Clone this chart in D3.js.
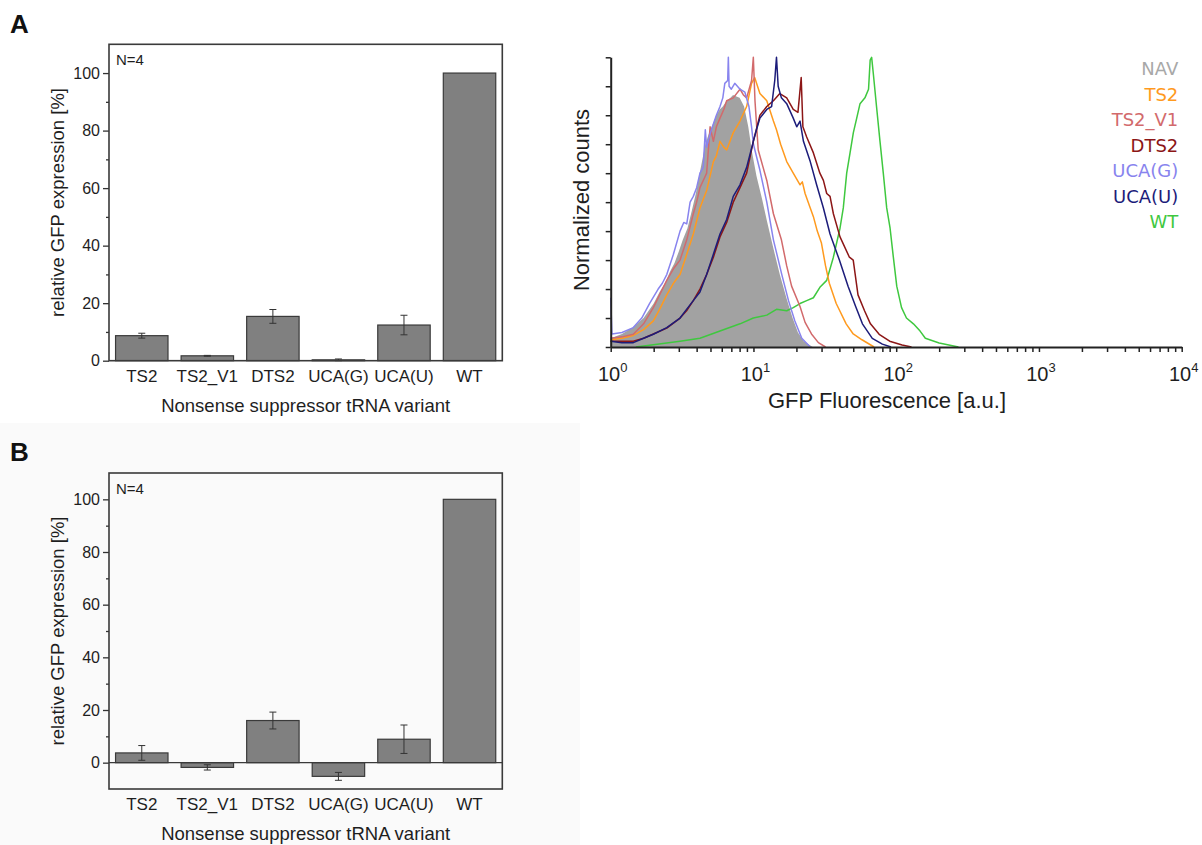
<!DOCTYPE html>
<html>
<head>
<meta charset="utf-8">
<script src="https://cdn.jsdelivr.net/npm/d3@7"></script>
<style>
  body { margin: 0; background: #fff; }
</style>
</head>
<body>
<script>
// ---- bar panels (A, B) ----
var categories = ["TS2", "TS2_V1", "DTS2", "UCA(G)", "UCA(U)", "WT"];
var valuesA = [8.7, 1.7, 15.4, 0.3, 12.4, 100];
var errorsA = [0.85, 0.15, 2.4, 0.3, 3.4, 0];
var valuesB = [3.7, -1.8, 16.0, -5.2, 8.9, 100];
var errorsB = [2.8, 1.0, 3.2, 1.5, 5.4, 0];
var barMajorTicks = [0, 20, 40, 60, 80, 100];
var barMinorTicks = [-10, 10, 30, 50, 70, 90, 110];

// ---- flow cytometry histogram ----
var histNames = ["NAV", "TS2", "TS2_V1", "DTS2", "UCA(G)", "UCA(U)", "WT"];
var histColors = ["#a8a8a8", "#ff9a1e", "#d26a6c", "#8c1616", "#8884ee", "#1c1c7a", "#3fc83f"];
var histYTicks = [0, 0.1, 0.2, 0.3, 0.4, 0.5, 0.6, 0.7, 0.8, 0.9, 1];
var histDecades = [1, 10, 100, 1000, 10000];
var histExponents = ["0", "1", "2", "3", "4"];

var histNAV = [[1,0.03],[1.2,0.045],[1.45,0.07],[1.7,0.1],[2.0,0.15],[2.2,0.19],[2.4,0.22],[2.6,0.26],[2.8,0.29],[3.0,0.33],[3.2,0.37],[3.45,0.41],
  [3.7,0.47],[3.95,0.53],[4.2,0.6],[4.4,0.65],[4.6,0.7],[4.9,0.74],[5.2,0.77],[5.5,0.8],[5.8,0.82],[6.1,0.83],[6.5,0.85],[6.9,0.86],[7.2,0.87],
  [7.6,0.865],[8.0,0.86],[8.6,0.83],[9.2,0.76],[9.8,0.67],[10.5,0.59],[11.5,0.51],[12.5,0.43],[13.8,0.34],[15.3,0.25],[17,0.17],[18.8,0.1],
  [20.5,0.05],[22.5,0.02],[26,0]];

var histUCAG = [[1,0.17],[1.02,0.045],[1.2,0.05],[1.44,0.067],[1.65,0.1],[1.87,0.15],[2.15,0.2],[2.3,0.22],[2.47,0.25],[2.75,0.32],[3.06,0.4],[3.25,0.43],[3.41,0.425],
  [3.6,0.5],[3.79,0.52],[4.0,0.55],[4.22,0.6],[4.45,0.62],[4.6,0.75],[4.7,0.69],[5.0,0.74],[5.24,0.77],[5.5,0.8],[5.83,0.83],[6.1,0.86],[6.3,0.91],
  [6.6,0.92],[6.67,1.0],[6.75,0.9],[7.0,0.89],[7.4,0.91],[8.05,0.89],[8.7,0.88],[9.3,0.83],[9.7,0.76],[10,0.7],[11.1,0.61],[12.4,0.5],[13.8,0.37],
  [15.8,0.25],[17.6,0.16],[19.5,0.09],[21.8,0.03],[25,0]];

var histTS2V1 = [[1,0.03],[1.2,0.035],[1.44,0.044],[1.7,0.08],[1.99,0.136],[2.2,0.18],[2.47,0.23],[2.75,0.27],[3.06,0.3],[3.41,0.37],[3.79,0.46],
  [4.0,0.5],[4.22,0.55],[4.5,0.58],[4.7,0.6],[4.97,0.76],[5.24,0.71],[5.5,0.76],[5.83,0.79],[6.2,0.82],[6.49,0.85],[7.22,0.86],[8.05,0.89],
  [8.5,0.87],[8.96,0.86],[9.7,0.92],[9.98,1.0],[10.25,0.85],[10.8,0.68],[12.4,0.575],[13.8,0.46],[15.7,0.37],[17.1,0.28],[18.5,0.21],
  [21.2,0.14],[23,0.085],[25.5,0.045],[28.5,0.015],[32,0]];

var histTS2 = [[1,0.025],[1.2,0.03],[1.44,0.04],[1.7,0.06],[1.99,0.09],[2.2,0.13],[2.47,0.18],[2.75,0.22],[3.06,0.25],[3.41,0.32],[3.79,0.39],
  [4.22,0.48],[4.7,0.54],[5.24,0.64],[5.5,0.66],[5.83,0.71],[6.2,0.69],[6.49,0.68],[7.22,0.74],[8.05,0.78],[8.96,0.83],[9.7,0.91],[10.2,0.93],
  [11.1,0.875],[12.4,0.85],[13.8,0.78],[14.5,0.75],[15.5,0.7],[17.1,0.64],[19,0.6],[21.2,0.56],[22,0.57],[23,0.53],[25,0.48],[26.3,0.45],
  [28,0.4],[29.9,0.36],[32,0.28],[34,0.22],[38,0.15],[44.6,0.08],[50,0.045],[57.6,0.025],[70,0]];

var histUCAU = [[1,0.02],[1.2,0.015],[1.44,0.015],[1.7,0.03],[1.99,0.044],[2.47,0.067],[3.06,0.1],[3.4,0.13],[3.79,0.16],[4.22,0.19],[4.7,0.25],
  [5.24,0.32],[5.83,0.39],[6.49,0.44],[7.22,0.52],[8.05,0.56],[8.96,0.62],[9.98,0.71],[10.5,0.75],[11.1,0.79],[12.4,0.82],[13.4,0.83],[14.1,0.92],
  [14.5,1.0],[14.9,0.9],[15.7,0.86],[17.1,0.84],[19,0.79],[20.1,0.76],[21.2,0.78],[22.4,0.71],[25,0.64],[27.7,0.56],[30.9,0.48],[34.4,0.39],
  [40,0.3],[46,0.21],[52,0.14],[58,0.08],[68,0.03],[80,0.01],[92,0]];

var histDTS2 = [[1,0.02],[1.2,0.02],[1.44,0.02],[1.7,0.03],[1.99,0.045],[2.47,0.065],[3.06,0.1],[3.4,0.125],[3.79,0.16],[4.22,0.2],[4.7,0.25],
  [5.24,0.31],[5.83,0.38],[6.49,0.43],[7.22,0.5],[8.05,0.55],[8.96,0.6],[9.98,0.71],[11.1,0.8],[12.4,0.83],[13.8,0.85],[15.3,0.875],[17.1,0.86],
  [19,0.82],[20.5,0.81],[21.6,0.93],[22.2,0.76],[23.6,0.725],[26.3,0.67],[29.2,0.6],[30.9,0.575],[32.6,0.53],[34.4,0.52],[36.3,0.46],[40.4,0.38],
  [47,0.31],[50,0.3],[54,0.18],[60,0.125],[66,0.08],[76,0.044],[90,0.02],[110,0.007],[128,0]];

var histWT = [[1.5,0],[1.99,0.008],[3.06,0.02],[4.22,0.03],[5.83,0.055],[8.05,0.08],[9.98,0.1],[12.4,0.11],[14.5,0.13],[17.1,0.125],[19,0.136],
  [21.2,0.15],[23.6,0.16],[26.3,0.17],[29.2,0.206],[32.6,0.23],[36.3,0.31],[40.4,0.41],[42.6,0.48],[45,0.6],[47.5,0.67],[50.1,0.74],[52.9,0.79],
  [55.8,0.84],[60.4,0.86],[64,0.89],[65.7,0.99],[67.3,1.0],[69.1,0.945],[72.8,0.83],[77,0.71],[81.2,0.6],[85.8,0.48],[90.6,0.41],[95.5,0.31],
  [100.9,0.21],[109,0.136],[118,0.1],[132,0.08],[147,0.055],[160,0.03],[200,0.014],[273,0]];

var histLines = {"TS2": histTS2, "TS2_V1": histTS2V1, "DTS2": histDTS2, "UCA(G)": histUCAG, "UCA(U)": histUCAU, "WT": histWT};

var font = '"Liberation Sans", Arial, Helvetica, sans-serif';
var ink = '#1e1e1e';

var svg = d3.select('body')
            .append('svg')
            .attr('width', 1202)
            .attr('height', 845)
            .style('font-family', font);

svg.append('rect').attr('width', 1202).attr('height', 845).attr('fill', '#fff');
// panel B sits on a faintly grey background in the original
svg.append('rect').attr('x', 0).attr('y', 423).attr('width', 580).attr('height', 422).attr('fill', '#fafafa');

function barPanel(values, errors, yMin, top, bottom) {
  var left = 109, right = 502.3;

  var xScale = d3.scaleBand()
                 .domain(categories)
                 .range([left, right])
                 .paddingInner(0.2)
                 .paddingOuter(0.1);

  var yScale = d3.scaleLinear()
                 .domain([yMin, 110])
                 .range([bottom, top]);

  var g = svg.append('g');

  g.selectAll('rect.bar')
    .data(values)
    .enter()
    .append('rect')
    .attr('class', 'bar')
    .attr('x', (d, i) => xScale(categories[i]))
    .attr('y', (d) => yScale(Math.max(0, d)))
    .attr('width', xScale.bandwidth())
    .attr('height', (d) => Math.abs(yScale(d) - yScale(0)))
    .attr('fill', '#808080')
    .attr('stroke', '#3a3a3a')
    .attr('stroke-width', 1.2);

  // error bars
  var err = g.selectAll('g.err')
    .data(values.map((v, i) => ({v: v, e: errors[i], c: categories[i]})).filter((d) => d.e > 0))
    .enter()
    .append('g')
    .attr('class', 'err')
    .attr('stroke', '#333')
    .attr('stroke-width', 1);

  err.append('line')
    .attr('x1', (d) => xScale(d.c) + xScale.bandwidth() / 2)
    .attr('x2', (d) => xScale(d.c) + xScale.bandwidth() / 2)
    .attr('y1', (d) => yScale(d.v - d.e))
    .attr('y2', (d) => yScale(d.v + d.e));
  [-1, 1].forEach(function(s) {
    err.append('line')
      .attr('x1', (d) => xScale(d.c) + xScale.bandwidth() / 2 - 3.5)
      .attr('x2', (d) => xScale(d.c) + xScale.bandwidth() / 2 + 3.5)
      .attr('y1', (d) => yScale(d.v + s * d.e))
      .attr('y2', (d) => yScale(d.v + s * d.e));
  });

  // y axis, major and minor ticks
  var yAxis = g.append('g')
    .attr('transform', 'translate(' + left + ',0)')
    .call(d3.axisLeft(yScale).tickValues(barMajorTicks).tickSize(6).tickSizeOuter(0).tickPadding(3));
  yAxis.selectAll('text').attr('font-size', 16).attr('font-family', font).attr('fill', ink);
  yAxis.selectAll('line').attr('stroke', '#333').attr('stroke-width', 1.3);
  yAxis.select('.domain').remove();

  var minor = g.append('g')
    .attr('transform', 'translate(' + left + ',0)')
    .call(d3.axisLeft(yScale).tickValues(barMinorTicks.filter((t) => t > yMin && t < 110)).tickSize(3).tickFormat(''));
  minor.selectAll('line').attr('stroke', '#333').attr('stroke-width', 1.3);
  minor.select('.domain').remove();

  // frame
  var frame = g.append('g').attr('stroke', '#3a3a3a').attr('stroke-width', 1.6).attr('fill', 'none');
  frame.append('rect')
    .attr('x', left).attr('y', yScale(110))
    .attr('width', right - left).attr('height', yScale(yMin) - yScale(110));
  if (yMin < 0) {
    frame.append('line')
      .attr('x1', left).attr('x2', right)
      .attr('y1', yScale(0)).attr('y2', yScale(0))
      .attr('stroke-width', 1.3);
  }

  // category labels
  g.selectAll('text.cat')
    .data(categories)
    .enter()
    .append('text')
    .attr('class', 'cat')
    .attr('x', (d) => xScale(d) + xScale.bandwidth() / 2)
    .attr('y', bottom + 21)
    .attr('text-anchor', 'middle')
    .attr('font-size', 17)
    .attr('fill', ink)
    .text((d) => d);

  g.append('text')
    .attr('x', (left + right) / 2)
    .attr('y', bottom + 51)
    .attr('text-anchor', 'middle')
    .attr('font-size', 18.5)
    .attr('fill', ink)
    .text('Nonsense suppressor tRNA variant');

  g.append('text')
    .attr('transform', 'translate(64,' + (top + bottom) / 2 + ') rotate(-90)')
    .attr('text-anchor', 'middle')
    .attr('font-size', 18.5)
    .attr('fill', ink)
    .text('relative GFP expression [%]');

  g.append('text')
    .attr('x', 116)
    .attr('y', top + 20.5)
    .attr('font-size', 15)
    .attr('fill', ink)
    .text('N=4');
}

barPanel(valuesA, errorsA, 0, 44.3, 360.7);
barPanel(valuesB, errorsB, -10, 473, 789);

svg.append('text').attr('x', 10).attr('y', 33).attr('font-size', 26).attr('font-weight', 'bold').attr('fill', '#111').text('A');
svg.append('text').attr('x', 10).attr('y', 461).attr('font-size', 26).attr('font-weight', 'bold').attr('fill', '#111').text('B');

// ---- histogram ----
var hx = d3.scaleLog().domain([1, 10000]).range([610.7, 1181.7]);
var hy = d3.scaleLinear().domain([0, 1]).range([347, 57.3]);

var hg = svg.append('g');

hg.append('path')
  .datum(histNAV)
  .attr('d', d3.area().x((d) => hx(d[0])).y0(hy(0)).y1((d) => hy(d[1])))
  .attr('fill', '#a2a2a2');

["WT", "TS2", "TS2_V1", "UCA(G)", "DTS2", "UCA(U)"].forEach(function(name) {
  hg.append('path')
    .datum(histLines[name])
    .attr('d', d3.line().x((d) => hx(d[0])).y((d) => hy(d[1])))
    .attr('fill', 'none')
    .attr('stroke', histColors[histNames.indexOf(name)])
    .attr('stroke-width', 1.5)
    .attr('stroke-linejoin', 'round');
});

var hxAxis = hg.append('g')
  .attr('transform', 'translate(0,' + hy(0) + ')')
  .call(d3.axisBottom(hx).tickValues(hx.ticks()).tickSize(5).tickSizeOuter(0).tickFormat(''));
hxAxis.selectAll('line').attr('stroke', '#222').attr('stroke-width', 1.5);
hxAxis.select('.domain').attr('stroke', '#222').attr('stroke-width', 2);

var hyAxis = hg.append('g')
  .attr('transform', 'translate(' + hx(1) + ',0)')
  .call(d3.axisLeft(hy).tickValues(histYTicks).tickSize(5).tickSizeOuter(0).tickFormat(''));
hyAxis.selectAll('line').attr('stroke', '#222').attr('stroke-width', 1.5);
hyAxis.select('.domain').attr('stroke', '#222').attr('stroke-width', 2);

var dec = hg.selectAll('text.dec')
  .data(histDecades)
  .enter()
  .append('text')
  .attr('class', 'dec')
  .attr('x', (d) => hx(d) + 2)
  .attr('y', 381)
  .attr('text-anchor', 'middle')
  .attr('font-size', 20)
  .attr('fill', ink);
dec.append('tspan').text('10');
dec.append('tspan')
  .attr('dy', -9)
  .attr('font-size', 13)
  .text((d, i) => histExponents[i]);

hg.append('text')
  .attr('x', 887)
  .attr('y', 408)
  .attr('text-anchor', 'middle')
  .attr('font-size', 22)
  .attr('fill', ink)
  .text('GFP Fluorescence [a.u.]');

hg.append('text')
  .attr('transform', 'translate(589,200) rotate(-90)')
  .attr('text-anchor', 'middle')
  .attr('font-size', 22)
  .attr('fill', ink)
  .text('Normalized counts');

hg.selectAll('text.leg')
  .data(histNames)
  .enter()
  .append('text')
  .attr('class', 'leg')
  .attr('x', 1178.3)
  .attr('y', (d, i) => 75 + i * 25.55)
  .attr('text-anchor', 'end')
  .attr('font-family', '"DejaVu Sans", Verdana, sans-serif')
  .attr('font-size', 18)
  .attr('fill', (d, i) => histColors[i])
  .text((d) => d);
</script>
</body>
</html>
